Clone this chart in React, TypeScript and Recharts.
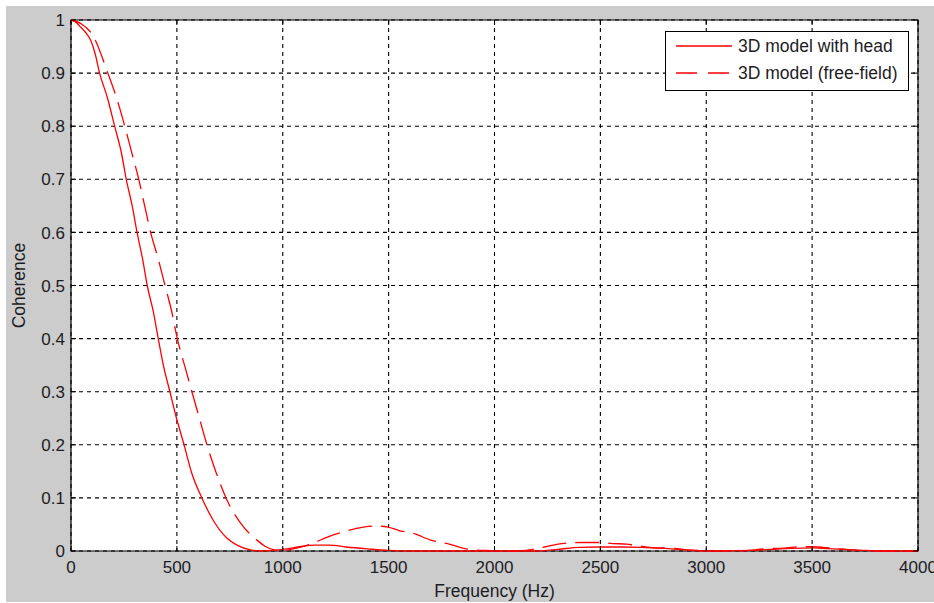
import React from 'react';
import {
  LineChart,
  Line,
  XAxis,
  YAxis,
  CartesianGrid,
  ReferenceArea,
  Legend,
} from 'recharts';

// coherence vs frequency
const headFreq = [0, 20, 40, 70, 95, 115, 135, 171, 206, 238, 261, 290, 312, 338, 360, 388, 412, 436, 467, 499, 534, 570, 618, 673, 737, 784, 848, 900, 1000, 1080, 1150, 1220, 1300, 1400, 1500, 1600, 2200, 2300, 2400, 2500, 2600, 2700, 2800, 2900, 3000, 3200, 3300, 3400, 3500, 3550, 3650, 3750, 3850, 4000];
const headCoh = [1, 0.997, 0.989, 0.976, 0.96, 0.935, 0.9, 0.855, 0.8, 0.75, 0.7, 0.648, 0.6, 0.55, 0.5, 0.452, 0.4, 0.35, 0.3, 0.249, 0.2, 0.147, 0.1, 0.057, 0.024, 0.011, 0.002, 0, 0.003, 0.008, 0.011, 0.011, 0.0075, 0.004, 0.001, 0, 0, 0.003, 0.007, 0.0075, 0.0075, 0.007, 0.005, 0.002, 0, 0.001, 0.003, 0.005, 0.006, 0.005, 0.003, 0.001, 0, 0];

const freeFreq = [0, 48, 103, 174, 214, 254, 285, 320, 349, 376, 412, 444, 475, 502, 536, 571, 607, 642, 686, 732, 800, 845, 880, 916, 960, 1000, 1060, 1130, 1223, 1286, 1381, 1440, 1497, 1546, 1617, 1703, 1790, 1869, 1950, 2100, 2180, 2240, 2300, 2350, 2420, 2490, 2560, 2625, 2660, 2745, 2845, 2950, 3150, 3280, 3380, 3440, 3500, 3550, 3620, 3700, 3780, 4000];
const freeCoh = [1, 0.993, 0.971, 0.9, 0.855, 0.8, 0.753, 0.7, 0.648, 0.6, 0.55, 0.5, 0.452, 0.4, 0.35, 0.3, 0.249, 0.2, 0.147, 0.1, 0.053, 0.032, 0.02, 0.009, 0.002, 0.001, 0.005, 0.0126, 0.028, 0.036, 0.045, 0.047, 0.045, 0.039, 0.033, 0.02, 0.0126, 0.004, 0.001, 0, 0.003, 0.008, 0.013, 0.015, 0.016, 0.016, 0.014, 0.013, 0.011, 0.0065, 0.005, 0.001, 0, 0.004, 0.006, 0.008, 0.008, 0.007, 0.004, 0.002, 0, 0];

const xTicks = [0, 500, 1000, 1500, 2000, 2500, 3000, 3500, 4000];
const yTicks = [0, 0.1, 0.2, 0.3, 0.4, 0.5, 0.6, 0.7, 0.8, 0.9, 1];

const seriesNames = ['3D model with head', '3D model (free-field)'];

const headData = headFreq.map((f, i) => ({ f, v: headCoh[i] }));
const freeData = freeFreq.map((f, i) => ({ f, v: freeCoh[i] }));

const W = 934;
const H = 603;
const MARGIN = { top: 20, right: 16, bottom: 0, left: 0 };
const Y_AXIS_W = 71;
const X_AXIS_H = 52;
const PLOT_W = W - MARGIN.left - MARGIN.right - Y_AXIS_W;
const PLOT_H = H - MARGIN.top - MARGIN.bottom - X_AXIS_H;

const FONT = '"Liberation Sans", Arial, sans-serif';
const TEXT = '#1c1c24';
const RED = '#ff0000';
const DASH = '24 9';

// MATLAB style ticks point inward, on both sides of the box
const XTick = ({ x, y, payload }: any) => (
  <g>
    <line x1={x} x2={x} y1={y} y2={y - 5} stroke="#000" />
    <line x1={x} x2={x} y1={y - PLOT_H} y2={y - PLOT_H + 5} stroke="#000" />
    <text x={x} y={y + 22} textAnchor="middle" fill={TEXT} fontSize={17} fontFamily={FONT}>
      {payload.value}
    </text>
  </g>
);

const YTick = ({ x, y, payload }: any) => (
  <g>
    <line x1={x} x2={x + 5} y1={y} y2={y} stroke="#000" />
    <line x1={x + PLOT_W - 5} x2={x + PLOT_W} y1={y} y2={y} stroke="#000" />
    <text x={x - 6} y={y} dy="0.36em" textAnchor="end" fill={TEXT} fontSize={17} fontFamily={FONT}>
      {payload.value}
    </text>
  </g>
);

const renderLegend = () => (
  <svg width={244} height={60} style={{ display: 'block' }}>
    <rect x={0.5} y={0.5} width={243} height={59} fill="#fff" stroke="#000" />
    {seriesNames.map((name, i) => (
      <g key={name}>
        <line
          x1={11}
          x2={67}
          y1={15 + i * 27}
          y2={15 + i * 27}
          stroke={RED}
          strokeWidth={1.3}
          strokeDasharray={i === 1 ? '21 11' : undefined}
        />
        <text x={73} y={15 + i * 27} dy="0.36em" fill={TEXT} fontSize={17.5} fontFamily={FONT}>
          {name}
        </text>
      </g>
    ))}
  </svg>
);

export default function App() {
  return (
    <div style={{ position: 'relative', width: W, height: H, background: '#fff' }}>
      <style>{'body{margin:0}'}</style>
      <div style={{ position: 'absolute', left: 6, top: 6, width: W - 6, height: H - 7, background: '#cccccc' }} />
      <div style={{ position: 'absolute', left: 0, top: 0 }}>
        <LineChart width={W} height={H} margin={MARGIN}>
          <CartesianGrid
            fill="#fff"
            stroke="#000"
            strokeWidth={1.1}
            strokeDasharray="4 4"
            horizontalValues={yTicks}
            verticalValues={xTicks}
          />
          <XAxis
            type="number"
            dataKey="f"
            domain={[0, 4000]}
            ticks={xTicks}
            height={X_AXIS_H}
            axisLine={false}
            tickLine={false}
            tickSize={0}
            tickMargin={0}
            tick={XTick}
            interval={0}
            allowDuplicatedCategory={false}
            label={{
              content: ({ viewBox }: any) => (
                <text
                  x={viewBox.x + viewBox.width / 2}
                  y={viewBox.y + 46}
                  textAnchor="middle"
                  fill={TEXT}
                  fontSize={17.5}
                  fontFamily={FONT}
                >
                  Frequency (Hz)
                </text>
              ),
            }}
          />
          <YAxis
            type="number"
            domain={[0, 1]}
            ticks={yTicks}
            width={Y_AXIS_W}
            axisLine={false}
            tickLine={false}
            tickSize={0}
            tickMargin={0}
            tick={YTick}
            interval={0}
            label={{
              content: ({ viewBox }: any) => {
                const cx = 25;
                const cy = viewBox.y + viewBox.height / 2;
                return (
                  <text
                    x={cx}
                    y={cy}
                    transform={`rotate(-90 ${cx} ${cy})`}
                    textAnchor="middle"
                    fill={TEXT}
                    fontSize={17.5}
                    fontFamily={FONT}
                  >
                    Coherence
                  </text>
                );
              },
            }}
          />
          <ReferenceArea x1={0} x2={4000} y1={0} y2={1} fill="none" stroke="#000" strokeWidth={1.2} />
          <Line
            data={headData}
            dataKey="v"
            name={seriesNames[0]}
            type="monotone"
            stroke={RED}
            strokeWidth={1.3}
            dot={false}
            isAnimationActive={false}
          />
          <Line
            data={freeData}
            dataKey="v"
            name={seriesNames[1]}
            type="monotone"
            stroke={RED}
            strokeWidth={1.3}
            strokeDasharray={DASH}
            dot={false}
            isAnimationActive={false}
          />
          <Legend
            layout="horizontal"
            verticalAlign="middle"
            align="center"
            wrapperStyle={{ left: 665, top: 31, width: 244, height: 60 }}
            content={renderLegend}
          />
        </LineChart>
      </div>
    </div>
  );
}
